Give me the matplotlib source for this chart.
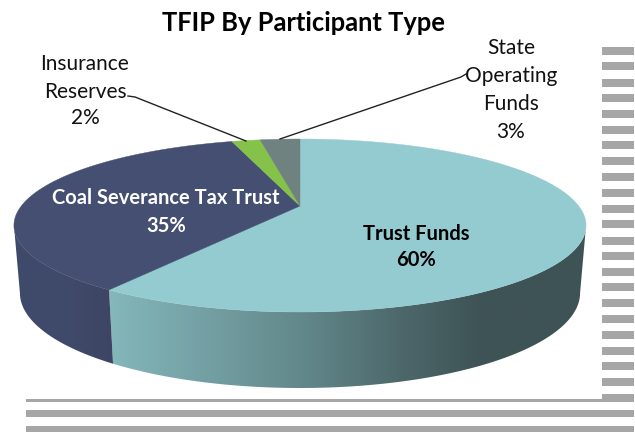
import numpy as np
import matplotlib
matplotlib.use("Agg")
import matplotlib.pyplot as plt
from matplotlib.colors import LinearSegmentedColormap
from matplotlib.patches import Polygon

categories = ["Trust Funds", "Coal Severance Tax Trust", "Insurance Reserves", "State Operating Funds"]
shares = [59.4, 35.8, 2.0, 2.8]
pct_labels = ["60%", "35%", "2%", "3%"]
colors = ["#93cbd0", "#444f71", "#84c24a", "#70827f"]

# grey stripes of the slide frame
right_stripes = [47, 62, 79, 94, 110, 126, 141, 157, 173, 189, 205, 220, 237,
                 252, 268, 283, 299, 315, 331, 347, 362, 378, 394]
bottom_stripes = [(399, 3), (410, 7), (426, 6)]

fig = plt.figure(figsize=(6.35, 4.32), dpi=100)
ax = fig.add_axes([0, 0, 1, 1])
ax.set_xlim(0, 635)
ax.set_ylim(432, 0)
ax.axis("off")

# perspective of the disc: centre at y=206, far edge y=139, near edge y=312
C = 39 / 173
A = 139 * C - 67


def top_face(t):
    u, v = np.sin(t), np.cos(t)
    d = C * v + 1
    return 300 + 278.7 * u / d, (A * v + 206) / d


def bottom_face(t):
    x, y = top_face(t)
    return 300 + (x - 300) * 280 / 286, 293 + (y - 225.5) * 95 / 86.5


def wall(t0, t1):
    t = np.linspace(t0, t1, 200)
    xt, yt = top_face(t)
    xb, yb = bottom_face(t[::-1])
    return np.column_stack([np.r_[xt, xb], np.r_[yt, yb]])


edges = np.radians(np.r_[0, np.cumsum(shares)] * 3.6)
right_t = np.radians(103)
left_t = np.radians(257)

# side walls, shaded left to right
teal_cmap = LinearSegmentedColormap.from_list(
    "teal", [(0, "#84b8ba"), (0.2, "#74a0a4"), (0.42, "#618689"), (0.62, "#4c676a"),
             (0.78, "#3e5355"), (1, "#3e5355")])
navy_cmap = LinearSegmentedColormap.from_list("navy", ["#3f4a6c", "#404a6b", "#3e4564"])

walls = [(wall(right_t, edges[1]), teal_cmap, (108, 586)),
         (wall(edges[1], left_t), navy_cmap, (14, 114))]
grad = np.linspace(0, 1, 256).reshape(1, -1)
for pts, cmap, (x0, x1) in walls:
    patch = Polygon(pts, closed=True, fc="none", ec="none")
    ax.add_patch(patch)
    im = ax.imshow(grad, cmap=cmap, extent=(x0, x1, 400, 130), aspect="auto", zorder=2)
    im.set_clip_path(patch)
ax.set_xlim(0, 635)
ax.set_ylim(432, 0)

# top face wedges
for i, color in enumerate(colors):
    t = np.linspace(edges[i], edges[i + 1], 200)
    xs, ys = top_face(t)
    pts = np.column_stack([np.r_[300, xs], np.r_[206, ys]])
    ax.add_patch(Polygon(pts, closed=True, fc=color, ec=color, lw=0.3, zorder=3))

# frame stripes
for y in right_stripes:
    ax.fill_between([602, 634], y, y + 8, color="#a6a6a6", lw=0, zorder=1)
for y, h in bottom_stripes:
    ax.fill_between([26, 634], y, y + h, color="#a6a6a6", lw=0, zorder=1)

# leader lines
ax.plot([128, 135, 246], [96, 97, 141], color="#222222", lw=1, zorder=4)
ax.plot([466, 461, 280], [74, 77, 139], color="#222222", lw=1, zorder=4)

font = "Lato"
ax.text(303, 23, "TFIP By Participant Type", ha="center", va="center",
        fontsize=18.4, fontweight="bold", family=font, color="black")
ax.text(166, 198.5, categories[1], ha="center", va="center", fontsize=14.5,
        fontweight="bold", family=font, color="white", zorder=5)
ax.text(166, 226.5, pct_labels[1], ha="center", va="center", fontsize=14.5,
        fontweight="bold", family=font, color="white", zorder=5)
ax.text(416, 233.5, categories[0], ha="center", va="center", fontsize=14.5,
        fontweight="bold", family=font, color="black", zorder=5)
ax.text(416, 260.5, pct_labels[0], ha="center", va="center", fontsize=14.5,
        fontweight="bold", family=font, color="black", zorder=5)
for y, s in zip([63.5, 91.5, 118.5], ["Insurance", "Reserves", pct_labels[2]]):
    ax.text(85, y, s, ha="center", va="center", fontsize=15, family=font, color="#111111")
for y, s in zip([48.5, 76.5, 103.5, 131.5], ["State", "Operating", "Funds", pct_labels[3]]):
    ax.text(511, y, s, ha="center", va="center", fontsize=15, family=font, color="#111111")

fig.savefig("out.png", dpi=100)
